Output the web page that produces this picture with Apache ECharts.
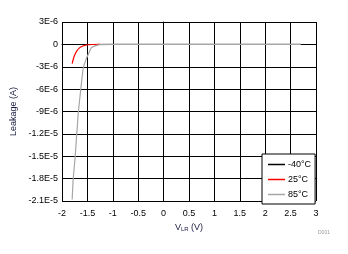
<!DOCTYPE html>
<html><head><meta charset="utf-8">
<script src="https://cdn.jsdelivr.net/npm/echarts@6/dist/echarts.min.js"></script>
<style>html,body{margin:0;padding:0;background:#fff}#c{width:348px;height:254px}</style>
</head><body><div id="c"></div>
<script>
// Leakage values in units of 1E-6 A
var seriesNames = ['-40\u00B0C', '25\u00B0C', '85\u00B0C'];
var xM40 = [-1.3, -0.5, 0.1, 1.0, 2.0, 2.7];
var yM40 = [0, 0, 0, 0, 0, 0];
var x25 = [-1.80, -1.76, -1.71, -1.65, -1.60, -1.55, -1.48, -1.40, -1.25];
var y25 = [-2.58, -1.6, -0.9, -0.44, -0.25, -0.13, -0.05, -0.02, 0];
var x85 = [-1.80, -1.78, -1.74, -1.71, -1.70, -1.68, -1.63, -1.58, -1.52, -1.48, -1.42, -1.32, -1.25, -1.0, 0, 1.0, 2.0, 2.7];
var y85 = [-20.8, -18.1, -15.0, -12.0, -11.2, -9.2, -6.0, -3.1, -1.9, -1.3, -0.44, -0.13, -0.03, 0, 0, 0, 0, 0];
var xTickLabels = ['-2', '-1.5', '-1', '-0.5', '0', '0.5', '1', '1.5', '2', '2.5', '3'];
var yTickLabels = ['-2.1E-5', '-1.8E-5', '-1.5E-5', '-1.2E-5', '-9E-6', '-6E-6', '-3E-6', '0', '3E-6'];
var colors = ['#000000', '#ff0000', '#a6a6a6'];

function pairs(xs, ys) { return xs.map(function (x, i) { return [x, ys[i]]; }); }
var font = 'Liberation Sans, Arial, sans-serif';
var chart = echarts.init(document.getElementById('c'));
chart.setOption({
  animation: false,
  grid: { left: 62, right: 32, top: 22, bottom: 53, show: false },
  legend: {
    data: seriesNames, orient: 'vertical', left: 262, top: 154,
    itemWidth: 17, itemHeight: 1.5, itemGap: 6, icon: 'rect',
    padding: [6, 4, 5, 6], borderColor: '#000', borderWidth: 1, backgroundColor: '#fff',
    textStyle: { fontFamily: font, fontSize: 9, color: '#000', padding: [0, 0, 0, -2] }
  },
  xAxis: {
    type: 'value', min: -2, max: 3, interval: 0.5,
    axisLine: { show: true, lineStyle: { color: '#000', width: 1 } },
    axisTick: { show: false },
    splitLine: { show: true, lineStyle: { color: '#000', width: 1 } },
    axisLabel: { fontFamily: font, fontSize: 9, color: '#000', margin: 8,
      formatter: function (v) { return xTickLabels[Math.round((v + 2) / 0.5)]; } },
    name: '{v|V}{s|LR}{v| (V)}', nameLocation: 'middle', nameGap: 21,
    nameTextStyle: { rich: { v: { fontFamily: font, fontSize: 9, color: '#1a1a40' },
      s: { fontFamily: font, fontSize: 6, color: '#1a1a40', verticalAlign: 'bottom', padding: [4, 0, 0, 0] } } }
  },
  yAxis: {
    type: 'value', min: -21, max: 3, interval: 3,
    axisLine: { show: true, lineStyle: { color: '#000', width: 1 } },
    axisTick: { show: false },
    splitLine: { show: true, lineStyle: { color: '#000', width: 1 } },
    axisLabel: { fontFamily: font, fontSize: 9, color: '#000', margin: 4,
      formatter: function (v) { return yTickLabels[Math.round((v + 21) / 3)]; } },
    name: 'Leakage (A)', nameLocation: 'middle', nameGap: 44,
    nameTextStyle: { fontFamily: font, fontSize: 9, color: '#1a1a40' }
  },
  graphic: [{ type: 'text', left: 318, top: 230, style: { text: 'D001', fontSize: 5, fill: '#999', fontFamily: font } }],
  series: [
    { name: seriesNames[0], type: 'line', data: pairs(xM40, yM40), showSymbol: false, lineStyle: { color: colors[0], width: 1 }, itemStyle: { color: colors[0] } },
    { name: seriesNames[1], type: 'line', data: pairs(x25, y25), showSymbol: false, smooth: 0.3, lineStyle: { color: colors[1], width: 1.2 }, itemStyle: { color: colors[1] } },
    { name: seriesNames[2], type: 'line', data: pairs(x85, y85), showSymbol: false, smooth: 0.2, lineStyle: { color: colors[2], width: 1.2 }, itemStyle: { color: colors[2] } }
  ]
});
</script></body></html>
